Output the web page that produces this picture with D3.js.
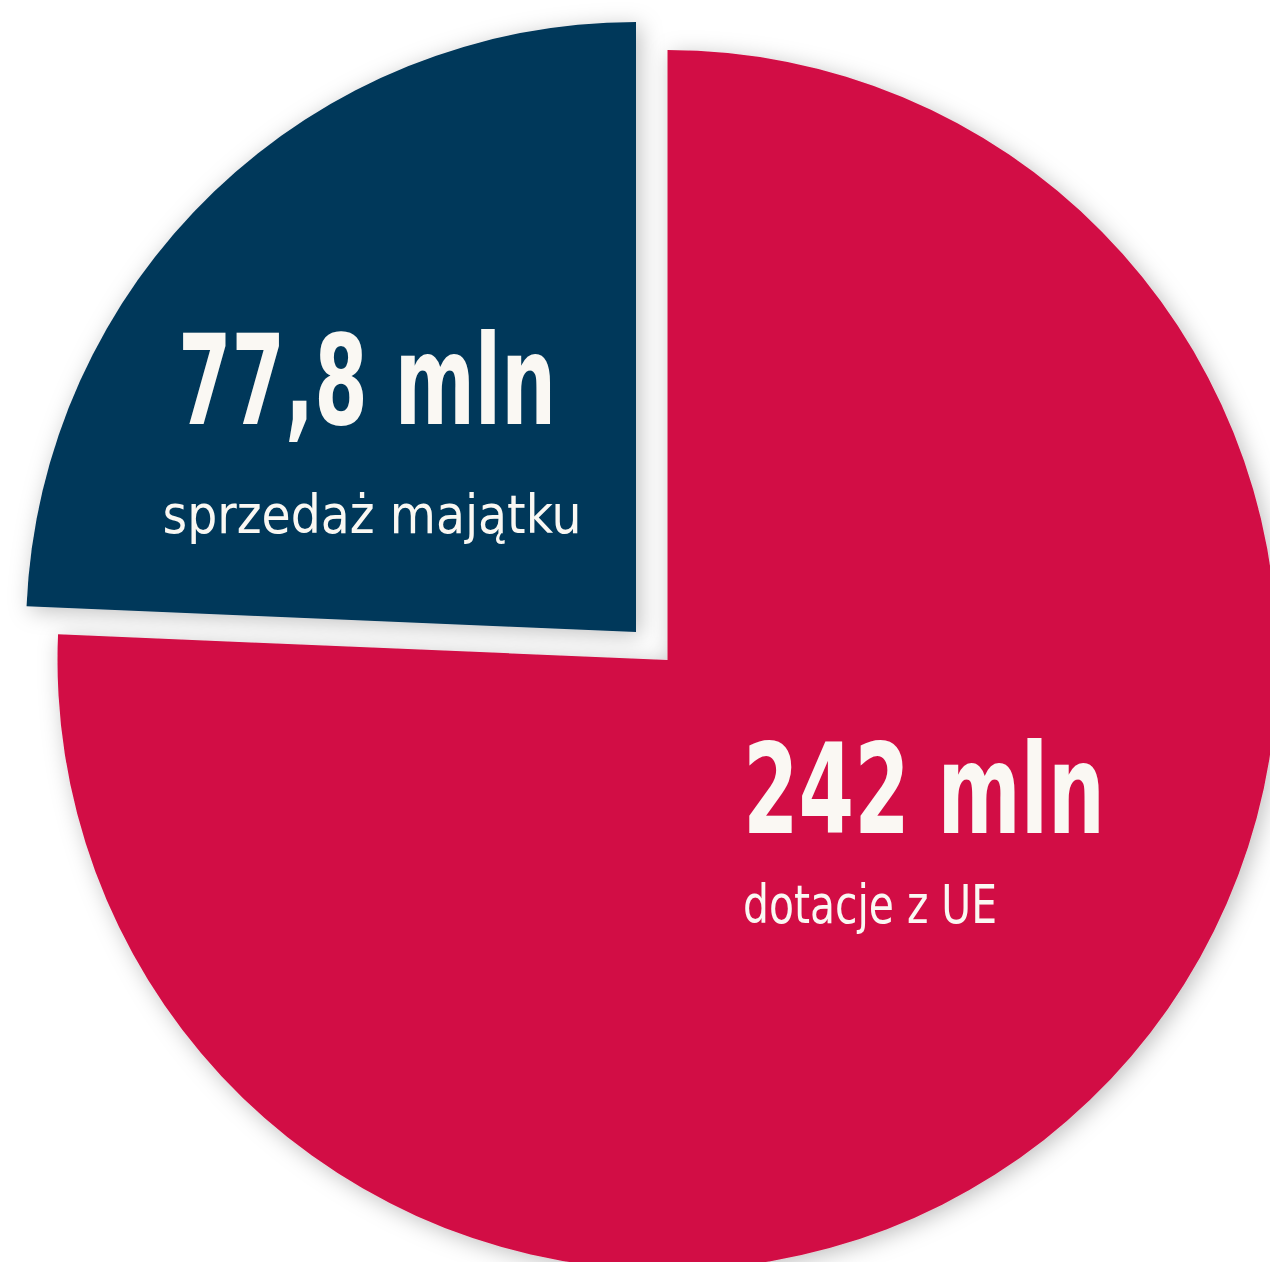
<!DOCTYPE html>
<html>
<head>
<meta charset="utf-8">
<script src="https://cdn.jsdelivr.net/npm/d3@7"></script>
<style>
  body { margin: 0; background: #fff; }
  text { font-family: "DejaVu Sans Condensed", "Liberation Sans Narrow", "Roboto", sans-serif; fill: #faf8f3; }
</style>
</head>
<body>
<script>
// data
var labels = ['dotacje z UE', 'sprzedaż majątku'];
var values = [242, 77.8];
var valueLabels = ['242 mln', '77,8 mln'];
var colors = ['#d20f45', '#02375a'];

var width = 1270, height = 1262;
var cx = 667.5, cy = 660, radius = 610;
// pulled-out slice offset (second slice only)
var pullOut = { dx: -31.5, dy: -28 };

var svg = d3.select('body').append('svg')
    .attr('width', width)
    .attr('height', height);

// soft shadow round the pie
var defs = svg.append('defs');
var f = defs.append('filter').attr('id', 'shadow')
    .attr('x', '-20%').attr('y', '-20%').attr('width', '140%').attr('height', '140%');
f.append('feDropShadow')
    .attr('dx', 4).attr('dy', 4)
    .attr('stdDeviation', 11)
    .attr('flood-color', '#000')
    .attr('flood-opacity', 0.25);

var g = svg.append('g')
    .attr('transform', 'translate(' + cx + ',' + cy + ')');

var pie = d3.pie().sort(null).value(function (d) { return d; });
var arc = d3.arc().innerRadius(0).outerRadius(radius);

var arcs = pie(values);

g.selectAll('path')
    .data(arcs)
    .enter().append('path')
    .attr('d', arc)
    .attr('fill', function (d, i) { return colors[i]; })
    .attr('filter', 'url(#shadow)')
    .attr('transform', function (d, i) {
        if (i == 0) return null;
        return 'translate(' + pullOut.dx + ',' + pullOut.dy + ')';
    });

// labels (placed by hand like the original)
var labelPos = [
    { x: 743, y: 833, anchor: 'start', w1: 362, x2: 743, y2: 923, w2: 254 },
    { x: 367, y: 424, anchor: 'middle', w1: 378, x2: 372, y2: 533, w2: 419 }
];

labelPos.forEach(function (p, i) {
    svg.append('text')
        .attr('x', p.x).attr('y', p.y)
        .attr('text-anchor', p.anchor)
        .attr('font-size', 124)
        .attr('font-weight', 'bold')
        .attr('textLength', p.w1)
        .attr('lengthAdjust', 'spacingAndGlyphs')
        .text(valueLabels[i]);
    svg.append('text')
        .attr('x', p.x2).attr('y', p.y2)
        .attr('text-anchor', p.anchor)
        .attr('font-size', 54)
        .attr('textLength', p.w2)
        .attr('lengthAdjust', 'spacingAndGlyphs')
        .text(labels[i]);
});
</script>
</body>
</html>
